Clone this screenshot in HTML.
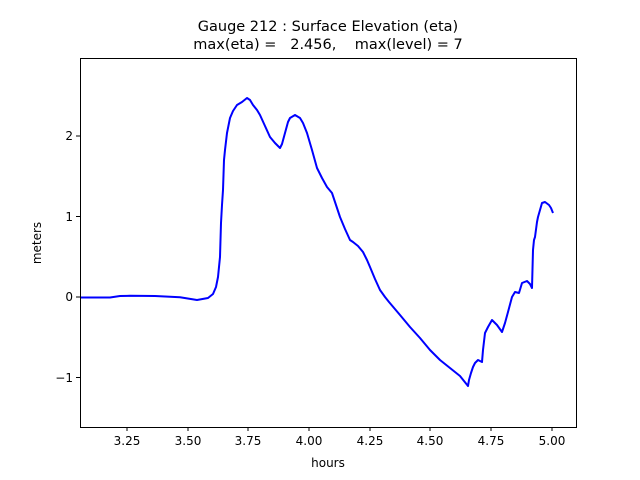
<!DOCTYPE html>
<html><head><meta charset="utf-8"><style>
body{margin:0;background:#fff;}
svg{display:block;font-family:"DejaVu Sans","Liberation Sans",sans-serif;}
</style></head><body>
<svg width="640" height="480" viewBox="0 0 640 480" xmlns="http://www.w3.org/2000/svg">
<rect width="640" height="480" fill="#fff"/>
<text x="328" y="31" font-size="14.5" text-anchor="middle">Gauge 212 : Surface Elevation (eta)</text>
<text x="328" y="49" font-size="14.5" text-anchor="middle" xml:space="preserve">max(eta) =   2.456,    max(level) = 7</text>
<polyline fill="none" stroke="#0000ff" stroke-width="2" stroke-linejoin="round" points="80,297.5 110,297.5 120,296 130,295.8 155,296 165,296.5 180,297.3 197,300 208,298 213,294 216,287 218,277 220,257 221,223 222,205 223,190 224,160 225,150 227,133 230,118 233,111 237,105 242,102 247,98 250,100 253,105 257,110 260,115 265,126 270,137 275,143 280,148 282,144 285,133 288,122 290,118 295,115 300,118 303,123 307,133 312,150 317,168 322,178 327,187 332,193 336,205 340,217 345,229 350,240 353,242 358,246 363,252 367,260 370,267 375,279 380,290 385,297 389,302 400,315 410,327 420,338 430,350 440,360 450,368 460,376 468,386 469,380 471,373 473,367 475,363 478,360 482,362 483,350 485,333 488,327 492,320 497,325 502,332 505,323 508,312 512,297 515,292 519,293 522,283 527,281 530,284 532,288 533,250 534,240 535,237 537,222 538,217 542,203 545,202 549,205 551,208 553,213"/>
<rect x="80.5" y="58.5" width="496" height="369" fill="none" stroke="#000" stroke-width="1"/>
<g stroke="#000" stroke-width="1">
<line x1="127" y1="427" x2="127" y2="431"/>
<line x1="188" y1="427" x2="188" y2="431"/>
<line x1="248" y1="427" x2="248" y2="431"/>
<line x1="309" y1="427" x2="309" y2="431"/>
<line x1="370" y1="427" x2="370" y2="431"/>
<line x1="430" y1="427" x2="430" y2="431"/>
<line x1="491" y1="427" x2="491" y2="431"/>
<line x1="552" y1="427" x2="552" y2="431"/>
<line x1="76" y1="377.5" x2="80" y2="377.5"/>
<line x1="76" y1="297" x2="80" y2="297"/>
<line x1="76" y1="216.5" x2="80" y2="216.5"/>
<line x1="76" y1="136" x2="80" y2="136"/>
</g>
<g font-size="12" text-anchor="middle">
<text x="127" y="445">3.25</text><text x="188" y="445">3.50</text><text x="248" y="445">3.75</text><text x="309" y="445">4.00</text>
<text x="370" y="445">4.25</text><text x="430" y="445">4.50</text><text x="491" y="445">4.75</text><text x="552" y="445">5.00</text>
<text x="328" y="467">hours</text>
</g>
<g font-size="12" text-anchor="end">
<text x="73" y="382">−1</text><text x="73" y="301">0</text><text x="73" y="221">1</text><text x="73" y="140">2</text>
</g>
<text font-size="12" text-anchor="middle" transform="translate(41,243) rotate(-90)">meters</text>
</svg>
</body></html>
